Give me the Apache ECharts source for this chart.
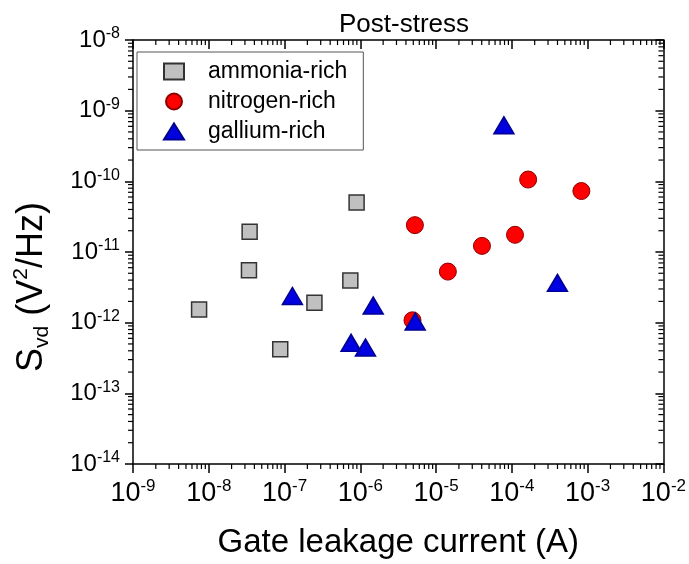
<!DOCTYPE html>
<html>
<head>
<meta charset="utf-8">
<script src="https://cdn.jsdelivr.net/npm/echarts@6/dist/echarts.min.js"></script>
<style>
html,body{margin:0;padding:0;background:#fff;}
#chart{width:689px;height:564px;}
</style>
</head>
<body>
<div id="chart"></div>
<script>
// ---- data ----
const ammoniaX = [7.45e-9, 3.46e-8, 3.39e-8, 8.77e-8, 2.48e-7, 7.38e-7, 8.93e-7];
const ammoniaY = [1.54e-12, 1.93e-11, 5.52e-12, 4.21e-13, 1.91e-12, 3.94e-12, 5.01e-11];
const nitrogenX = [4.88e-6, 5.25e-6, 1.43e-5, 4.03e-5, 1.10e-4, 1.64e-4, 8.26e-4];
const nitrogenY = [1.08e-12, 2.40e-11, 5.28e-12, 1.22e-11, 1.75e-11, 1.06e-10, 7.29e-11];
const galliumX = [1.27e-7, 1.48e-6, 7.55e-7, 1.17e-6, 5.30e-6, 7.85e-5, 3.99e-4];
const galliumY = [2.38e-12, 1.75e-12, 5.18e-13, 4.45e-13, 1.04e-12, 6.21e-10, 3.65e-12];
const seriesNames = ['ammonia-rich', 'nitrogen-rich', 'gallium-rich'];
const xMin = 1e-9, xMax = 1e-2;
const yMin = 1e-14, yMax = 1e-8;
const titleText = 'Post-stress';
const xTitle = 'Gate leakage current (A)';

const FONT = 'Liberation Sans, Arial, sans-serif';
const pairs = (xs, ys) => xs.map((x, i) => [x, ys[i]]);
const expLabel = v => '{b|10}{s|' + Math.round(Math.log10(v)) + '}';

const chart = echarts.init(document.getElementById('chart'));
const axisLine = {show: true, lineStyle: {color: '#000', width: 1.5}};

chart.setOption({
  animation: false,
  backgroundColor: '#fff',
  title: {
    text: titleText, left: 399, top: 7, textAlign: 'center',
    textStyle: {fontFamily: FONT, fontSize: 26, fontWeight: 'normal', color: '#000'}
  },
  grid: {left: 133, right: 24, top: 40, bottom: 98, containLabel: false},
  legend: {
    orient: 'vertical', left: 137, top: 52,
    padding: [8, 16, 7, 26], itemGap: 7,
    itemWidth: 20, itemHeight: 16,
    borderColor: '#555', borderWidth: 1,
    data: seriesNames,
    textStyle: {fontFamily: FONT, fontSize: 23, color: '#000', lineHeight: 22, padding: [0, 0, 0, 19]}
  },
  xAxis: [{
    type: 'log', logBase: 10, min: xMin, max: xMax, splitNumber: 7,
    position: 'bottom',
    axisLine: axisLine,
    axisTick: {show: true, inside: false, length: 9, lineStyle: {color: '#000', width: 1.5}},
    splitLine: {show: false},
    axisLabel: {
      margin: 14, color: '#000', fontFamily: FONT,
      formatter: expLabel,
      rich: {
        b: {fontSize: 27, fontFamily: FONT, color: '#000', lineHeight: 32, verticalAlign: 'middle'},
        s: {fontSize: 17, fontFamily: FONT, color: '#000', lineHeight: 12, verticalAlign: 'top'}
      }
    },
    name: xTitle, nameLocation: 'middle', nameGap: 62,
    nameTextStyle: {fontFamily: FONT, fontSize: 33, color: '#000'}
  }, {
    type: 'log', logBase: 10, min: xMin, max: xMax, splitNumber: 7,
    position: 'top',
    axisLine: axisLine,
    axisTick: {show: true, inside: true, length: 9, lineStyle: {color: '#000', width: 1.5}},
    axisLabel: {show: false}, splitLine: {show: false}
  }],
  yAxis: [{
    type: 'log', logBase: 10, min: yMin, max: yMax, splitNumber: 6,
    position: 'left',
    axisLine: axisLine,
    axisTick: {show: true, inside: false, length: 8, lineStyle: {color: '#000', width: 1.5}},
    splitLine: {show: false},
    axisLabel: {
      margin: 13, color: '#000', fontFamily: FONT,
      formatter: expLabel,
      rich: {
        b: {fontSize: 24, fontFamily: FONT, color: '#000', lineHeight: 28, verticalAlign: 'middle'},
        s: {fontSize: 16, fontFamily: FONT, color: '#000', lineHeight: 8, verticalAlign: 'top'}
      }
    }
  }, {
    type: 'log', logBase: 10, min: yMin, max: yMax, splitNumber: 6,
    position: 'right',
    axisLine: axisLine,
    axisTick: {show: true, inside: true, length: 8, lineStyle: {color: '#000', width: 1.5}},
    axisLabel: {show: false}, splitLine: {show: false}
  }],
  series: [{
    name: seriesNames[0], type: 'scatter', symbol: 'rect', symbolSize: 15,
    itemStyle: {color: '#c0c0c0', borderColor: '#333', borderWidth: 1.5, opacity: 1},
    data: pairs(ammoniaX, ammoniaY), z: 3
  }, {
    name: seriesNames[1], type: 'scatter', symbol: 'circle', symbolSize: 17,
    itemStyle: {color: '#ff0000', borderColor: '#8b0000', borderWidth: 1, opacity: 1},
    data: pairs(nitrogenX, nitrogenY), z: 4
  }, {
    name: seriesNames[2], type: 'scatter', symbol: 'triangle', symbolSize: [20, 17],
    itemStyle: {color: '#0000e0', borderColor: '#000090', borderWidth: 1.5, opacity: 1},
    data: pairs(galliumX, galliumY), z: 5
  }]
});

// minor ticks (log positions) drawn through the axes' own scales
function drawMinor() {
  const els = [];
  const x0 = chart.convertToPixel({xAxisIndex: 0}, xMin);
  const x1 = chart.convertToPixel({xAxisIndex: 0}, xMax);
  const yb = chart.convertToPixel({yAxisIndex: 0}, yMin);
  const yt = chart.convertToPixel({yAxisIndex: 0}, yMax);
  const L = 5;
  const st = {stroke: '#000', lineWidth: 1.2};
  for (let d = Math.log10(xMin); d < Math.log10(xMax); d++) {
    for (let k = 2; k <= 9; k++) {
      const px = chart.convertToPixel({xAxisIndex: 0}, k * Math.pow(10, d));
      els.push({type: 'line', shape: {x1: px, y1: yb, x2: px, y2: yb + L}, style: st, silent: true});
      els.push({type: 'line', shape: {x1: px, y1: yt, x2: px, y2: yt + L}, style: st, silent: true});
    }
  }
  for (let d = Math.log10(yMin); d < Math.log10(yMax); d++) {
    for (let k = 2; k <= 9; k++) {
      const py = chart.convertToPixel({yAxisIndex: 0}, k * Math.pow(10, d));
      els.push({type: 'line', shape: {x1: x0, y1: py, x2: x0 - L, y2: py}, style: st, silent: true});
      els.push({type: 'line', shape: {x1: x1, y1: py, x2: x1 - L, y2: py}, style: st, silent: true});
    }
  }
  // y-axis title (rotated, with subscript/superscript)
  els.push({
    type: 'text', x: 32, y: 287, rotation: Math.PI / 2, silent: true,
    style: {
      text: '{a|S}{sub|vd}{a| (V}{sup|2}{a|/Hz)}',
      align: 'center', verticalAlign: 'middle',
      rich: {
        a: {fontSize: 36, fontFamily: FONT, fill: '#000', lineHeight: 42, verticalAlign: 'middle'},
        sub: {fontSize: 21, fontFamily: FONT, fill: '#000', lineHeight: 16, verticalAlign: 'bottom'},
        sup: {fontSize: 21, fontFamily: FONT, fill: '#000', lineHeight: 14, verticalAlign: 'top'}
      }
    }
  });
  chart.setOption({graphic: els});
}
drawMinor();
</script>
</body>
</html>
